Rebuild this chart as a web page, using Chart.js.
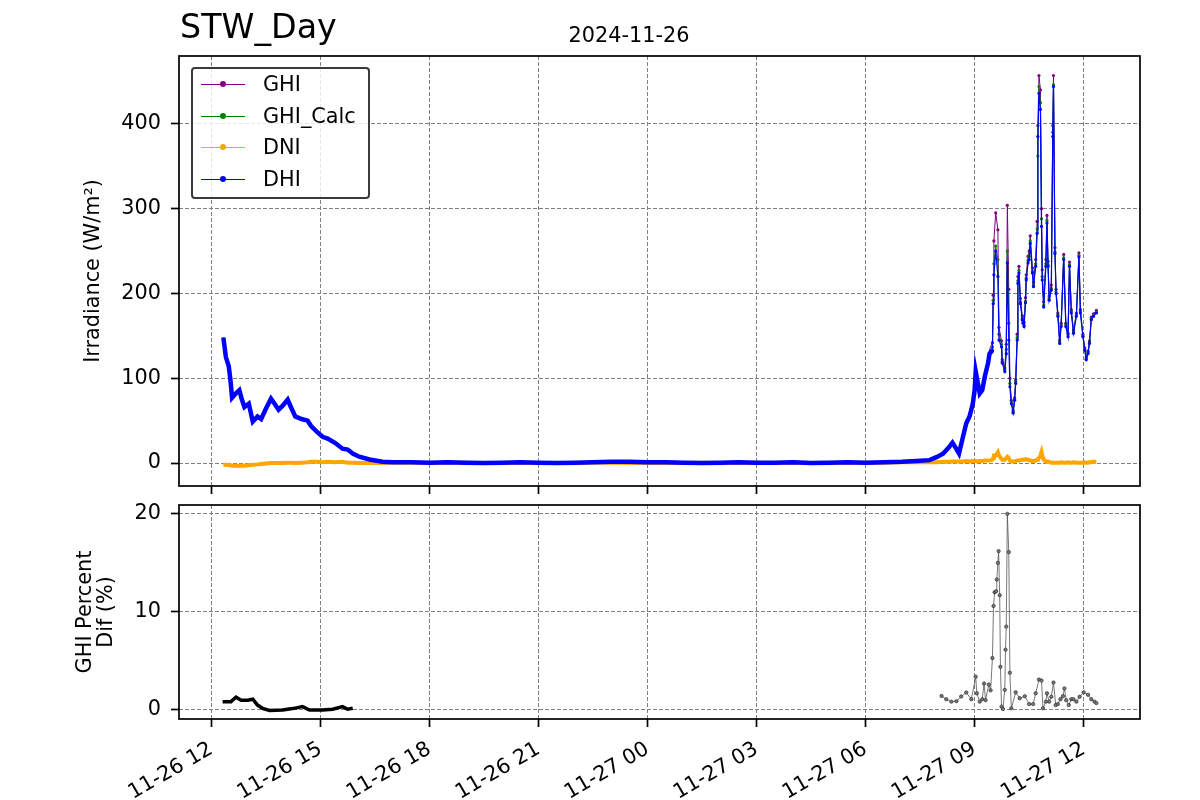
<!DOCTYPE html>
<html>
<head>
<meta charset="utf-8">
<script src="https://cdn.jsdelivr.net/npm/chart.js@4.4.1/dist/chart.umd.min.js"></script>
<style>
  body { margin: 0; background: #fff; font-family: "DejaVu Sans", sans-serif; }
  #wrap { position: relative; width: 1200px; height: 800px; overflow: hidden; }
  canvas { position: absolute; left: 0; }
  #title { position: absolute; left: 180px; top: 7px; font-size: 33.3px; color: #000; }
  #date { position: absolute; left: 629px; top: 23px; font-size: 20.8px; transform: translateX(-50%); color: #000; }
  #legend {
    position: absolute; left: 191px; top: 67px; width: 175px; height: 128px;
    border: 2px solid #3a3a3a; border-radius: 4px; background: rgba(255,255,255,0.8);
  }
  .row { position: absolute; left: 0; height: 20px; width: 100%; }
  .row .ln { position: absolute; left: 8px; top: 9px; width: 44px; height: 1px; }
  .row .dot { position: absolute; left: 27px; top: 6px; width: 6px; height: 6px; border-radius: 50%; }
  .row span { position: absolute; left: 70px; top: -3px; font-size: 20.8px; color: #000; }
</style>
</head>
<body>
<div id="wrap">
  <canvas id="top" width="1200" height="500" style="top:0"></canvas>
  <canvas id="bottom" width="1200" height="310" style="top:490px"></canvas>
  <div id="title">STW_Day</div>
  <div id="date">2024-11-26</div>
  <div id="legend"></div>
</div>
<script>
// hours since 2024-11-26 00:00
const hours = [
  12.33, 12.40, 12.48, 12.53, 12.57, 12.67, 12.77, 12.84, 12.91, 13.03,
  13.14, 13.27, 13.37, 13.50, 13.64, 13.74, 13.85, 13.97, 14.10, 14.20,
  14.31, 14.48, 14.65, 14.74, 14.90, 15.06, 15.20, 15.40, 15.61, 15.75,
  15.90, 16.07, 16.35, 16.71, 17.00,
  17.5, 18, 18.5, 19, 19.5, 20, 20.5, 21, 21.5, 22, 22.5, 23, 23.5, 24,
  24.5, 25, 25.5, 26, 26.5, 27, 27.5, 28, 28.5, 29, 29.5, 30, 30.5, 31, 31.4,
  31.76, 31.95, 32.13, 32.28, 32.39, 32.48, 32.57, 32.68, 32.77, 32.86,
  32.95, 33.00, 33.03, 33.09, 33.14, 33.21, 33.28, 33.37, 33.41, 33.49,
  33.51, 33.53, 33.58, 33.64, 33.67, 33.74, 33.76, 33.83, 33.87, 33.90,
  33.94, 33.97, 34.01, 34.06, 34.10, 34.13, 34.17, 34.19, 34.22, 34.26,
  34.31, 34.33, 34.36, 34.40, 34.42, 34.47, 34.50, 34.53, 34.59, 34.62,
  34.68, 34.72, 34.74, 34.77, 34.81, 34.84, 34.86, 34.90, 34.96, 34.99,
  35.02, 35.05, 35.11, 35.15, 35.17, 35.21, 35.24, 35.29, 35.34, 35.38,
  35.45, 35.51, 35.57, 35.61, 35.66, 35.72, 35.80, 35.87, 35.91, 35.98,
  36.03, 36.07, 36.12, 36.16, 36.21, 36.27, 36.35
];

const dhi = [
  148, 125, 114, 96, 77, 82, 86, 75, 66, 70,
  49, 55, 52, 64, 76, 70, 63, 68, 75, 65,
  55, 52, 50, 44, 37, 31, 29, 24, 17, 16,
  11, 7.5, 4.3, 1.5, 1,
  1, 0.5, 1, 0.5, 0, 0.5, 1, 0.5, 0, 0.5, 1, 1.5, 1.5, 1,
  1, 0.5, 0, 0.5, 1, 0.5, 0.5, 1, 0, 0.5, 1, 0.5, 1, 1.5, 2.5,
  3.5, 7, 11, 18, 24, 18, 11.4, 31, 47, 55,
  70, 86, 108, 94, 82, 86, 102, 118, 129, 133,
  188, 222, 250, 220, 145, 137, 118, 108, 129, 236,
  145, 90, 70, 59, 74, 94, 145, 212, 224, 188,
  169, 165, 161, 189, 216, 236, 240, 259, 224, 208,
  232, 271, 385, 436, 417, 279, 216, 184, 232, 283,
  232, 192, 204, 385, 444, 247, 200, 173, 141, 161,
  240, 161, 149, 232, 177, 153, 173, 243, 177, 149,
  133, 122, 129, 141, 169, 173, 177
];

const ghi = [
  148, 125, 114, 96, 77, 82, 86, 75, 66, 70,
  49, 55, 52, 64, 76, 70, 63, 68, 75, 65,
  55, 52, 50, 44, 37, 31, 29, 24, 17, 16,
  11, 7.5, 4.3, 1.5, 1,
  1, 0.5, 1, 0.5, 0, 0.5, 1, 0.5, 0, 0.5, 1, 1.5, 1.5, 1,
  1, 0.5, 0, 0.5, 1, 0.5, 0.5, 1, 0, 0.5, 1, 0.5, 1, 1.5, 2.5,
  4, 7.5, 11.5, 18.5, 25, 19, 12, 32, 48, 56,
  71, 88, 112, 98, 84, 89, 105, 122, 134, 142,
  198, 262, 295, 275, 160, 144, 122, 112, 140, 304,
  205, 100, 74, 62, 77, 98, 152, 220, 232, 194,
  174, 170, 166, 195, 222, 244, 250, 268, 230, 213,
  240, 285, 398, 457, 440, 300, 228, 190, 240, 292,
  238, 197, 210, 398, 457, 254, 205, 177, 145, 165,
  246, 165, 153, 237, 181, 157, 177, 248, 181, 152,
  136, 125, 132, 144, 172, 176, 180
];

const ghiCalc = [
  148, 125, 114, 96, 77, 82, 86, 75, 66, 70,
  49, 55, 52, 64, 76, 70, 63, 68, 75, 65,
  55, 52, 50, 44, 37, 31, 29, 24, 17, 16,
  11, 7.5, 4.3, 1.5, 1,
  1, 0.5, 1, 0.5, 0, 0.5, 1, 0.5, 0, 0.5, 1, 1.5, 1.5, 1,
  1, 0.5, 0, 0.5, 1, 0.5, 0.5, 1, 0, 0.5, 1, 0.5, 1, 1.5, 2.5,
  4, 7.5, 11.5, 18.5, 25, 19, 12, 32, 48, 56,
  71, 87, 110, 96, 83, 88, 104, 120, 131, 137,
  192, 235, 256, 240, 152, 140, 120, 110, 134, 250,
  165, 94, 72, 60, 75, 96, 148, 215, 227, 190,
  171, 167, 163, 191, 218, 239, 244, 262, 226, 210,
  235, 276, 362, 444, 425, 288, 220, 186, 235, 286,
  234, 194, 206, 390, 446, 249, 202, 175, 143, 163,
  242, 163, 151, 234, 179, 155, 175, 245, 179, 150,
  134, 123, 130, 142, 170, 174, 178
];

const dni = [
  -2, -2, -2.5, -2.5, -3, -3, -3.5, -3, -3, -2.5,
  -2, -1.5, -1, -0.5, 0, 0, 0, 0, 0.5, 0.5,
  0, 0.5, 1, 1.5, 1.5, 1, 1.5, 1, 1.5, 0.5,
  0.5, 0, 0, 0, 0.5,
  0.5, 0, 0.5, 0.5, 0, 0, 0.5, 0, 0, 0, 0.5, 0.5, 0, 0,
  0.5, 0, 0.5, 0, 0, 0.5, 0, 0.5, 0, 0.5, 0, 0.5, 0.5, 1, 1,
  1, 1, 1.5, 1.5, 2, 2, 2, 2, 2.5, 2,
  2.5, 2.5, 2.5, 2, 2.5, 2.5, 3, 3, 3, 4,
  6, 9, 9, 13, 9, 5, 4, 4, 6, 7.5,
  6, 3, 2, 2, 2, 2.5, 3, 3, 3, 3.5,
  4, 4, 4, 4.5, 4.5, 4, 3.5, 3, 2.5, 2.5,
  3, 4, 5, 6, 9, 13, 9, 4, 2, 1.5,
  2, 1.5, 0.5, 0.5, 0.5, 0.5, 0.5, 0.5, 0.5, 1,
  0.5, 0.5, 1, 0.5, 0.5, 1, 0.5, 0.5, 0.5, 0.5,
  1, 0.5, 0.5, 1, 1, 1.5, 1.5
];

// GHI percent difference, null marks the gap overnight
const pctHours = [
  12.31, 12.54, 12.68, 12.82, 13.00, 13.14, 13.27, 13.41, 13.60, 13.96,
  14.24, 14.51, 14.70, 15.06, 15.34, 15.61, 15.75, 15.89,
  24.0,
  32.09, 32.22, 32.36, 32.50, 32.63, 32.77, 32.91, 33.03, 33.06, 33.14,
  33.21, 33.26, 33.30, 33.39, 33.44, 33.49, 33.52, 33.55, 33.59, 33.61,
  33.64, 33.66, 33.69, 33.71, 33.74, 33.78, 33.83, 33.85, 33.87, 33.90,
  33.94, 33.97, 34.01, 34.13, 34.24, 34.38, 34.50, 34.61, 34.68, 34.77,
  34.84, 34.88, 34.96, 34.99, 35.05, 35.11, 35.17, 35.23, 35.29, 35.36,
  35.43, 35.47, 35.52, 35.59, 35.66, 35.72, 35.80, 35.89, 36.00, 36.12,
  36.21, 36.30, 36.35
];
const pctDif = [
  0.85, 0.85, 1.3, 1.0, 1.0, 1.1, 0.5, 0.17, -0.05, 0.0,
  0.14, 0.34, 0.0, 0.0, 0.07, 0.34, 0.07, 0.17,
  null,
  1.43, 1.1, 0.85, 0.9, 1.37, 1.78, 1.1, 3.4, 1.7, 0.85,
  1.1, 2.7, 1.0, 2.6, 2.0, 5.3, 10.6, 12.0, 12.1, 13.3,
  15.0, 16.2, 11.7, 4.4, 0.34, 0.1, 2.05, 6.15, 8.5, 20.0,
  16.1, 3.8, 0.17, 1.8, 1.2, 1.4, 0.6, 0.6, 1.7, 3.1,
  3.0, 0.17, 0.85, 1.7, 0.85, 1.35, 2.8, 0.5, 0.6, 1.1,
  1.4, 2.2, 1.0, 0.5, 1.1, 1.1, 0.85, 1.35, 1.8, 1.55,
  1.1, 0.85, 0.7
];

const xTicks = [12, 15, 18, 21, 24, 27, 30, 33, 36];
const xTickLabels = ['11-26 12', '11-26 15', '11-26 18', '11-26 21', '11-27 00',
                     '11-27 03', '11-27 06', '11-27 09', '11-27 12'];
const irrTicks = [0, 100, 200, 300, 400];
const pctTicks = [0, 10, 20];

const seriesNames = ['GHI', 'GHI_Calc', 'DNI', 'DHI'];
const seriesColors = ['#800080', '#008000', '#ffa500', '#0000ff'];

const FONT = 'DejaVu Sans';
const FS = 20.8;
const denseUntil = 33.45;

const pts = (xs, ys) => xs.map((x, i) => ({ x: x, y: ys[i] }));

// box around the plot area, like matplotlib axes
const frame = {
  id: 'frame',
  afterDraw(chart) {
    const { ctx, chartArea: a } = chart;
    ctx.save();
    ctx.strokeStyle = '#000';
    ctx.lineWidth = 1.7;
    ctx.strokeRect(a.left, a.top, a.right - a.left, a.bottom - a.top);
    ctx.restore();
  }
};

function gridOpts() {
  return {
    color: '#808080',
    lineWidth: 1,
    tickColor: '#000',
    tickBorderDash: [],
    tickLength: 8,
    tickWidth: 1.7
  };
}

function xScale(showLabels, height) {
  return {
    type: 'linear',
    min: 11.11,
    max: 37.55,
    afterBuildTicks: s => { s.ticks = xTicks.map(v => ({ value: v })); },
    afterFit: s => {
      s.height = height;
      s.paddingLeft = 0;
      s.paddingRight = 0;
    },
    border: { display: false, dash: [4, 2] },
    grid: gridOpts(),
    ticks: {
      display: showLabels,
      autoSkip: false,
      maxRotation: 30,
      minRotation: 30,
      padding: 10,
      color: '#000',
      font: { family: FONT, size: FS },
      callback: v => xTickLabels[xTicks.indexOf(v)]
    }
  };
}

function yScale(min, max, tickVals, title, width) {
  return {
    min: min,
    max: max,
    afterBuildTicks: s => { s.ticks = tickVals.map(v => ({ value: v })); },
    afterFit: s => {
      s.width = width;
      s.paddingTop = 0;
      s.paddingBottom = 0;
    },
    border: { display: false, dash: [4, 2] },
    grid: gridOpts(),
    title: {
      display: true,
      text: title,
      color: '#000',
      padding: 0,
      font: { family: FONT, size: FS, lineHeight: 1.0 }
    },
    ticks: {
      padding: 10,
      color: '#000',
      font: { family: FONT, size: FS }
    }
  };
}

// top panel: irradiance
const irrData = [ghi, ghiCalc, dni, dhi];
new Chart(document.getElementById('top'), {
  type: 'line',
  data: {
    datasets: irrData.map((vals, i) => ({
      label: seriesNames[i],
      data: pts(hours, vals),
      borderColor: seriesColors[i],
      backgroundColor: seriesColors[i],
      order: 4 - i,
      tension: 0,
      pointRadius: ctx => (i === 2 || ctx.raw.x < denseUntil) ? 0 : 1.6,
      pointBorderWidth: 0,
      segment: {
        borderWidth: ctx => {
          if (i === 2) return 4;
          if (i === 3) return ctx.p0.parsed.x < denseUntil ? 4.5 : 1.2;
          return 1;
        }
      }
    }))
  },
  options: {
    responsive: false,
    animation: false,
    devicePixelRatio: 1,
    layout: { padding: { left: 83, right: 60, top: 56, bottom: 4 } },
    plugins: { legend: { display: false }, tooltip: { enabled: false } },
    scales: {
      x: xScale(false, 10),
      y: yScale(-27, 480, irrTicks, 'Irradiance (W/m²)', 96)
    }
  },
  plugins: [frame]
});

// bottom panel: GHI percent difference
new Chart(document.getElementById('bottom'), {
  type: 'line',
  data: {
    datasets: [{
      label: 'GHI Percent Dif',
      data: pts(pctHours, pctDif),
      borderColor: '#333',
      tension: 0,
      spanGaps: false,
      pointRadius: ctx => ctx.raw.x < 20 ? 0 : 1.7,
      pointBackgroundColor: '#777',
      pointBorderColor: '#222',
      pointBorderWidth: 0.6,
      segment: {
        borderWidth: ctx => ctx.p0.parsed.x < 20 ? 3.5 : 0.8,
        borderColor: ctx => ctx.p0.parsed.x < 20 ? '#000' : '#555'
      }
    }]
  },
  options: {
    responsive: false,
    animation: false,
    devicePixelRatio: 1,
    layout: { padding: { left: 75, right: 60, top: 15, bottom: 0 } },
    plugins: { legend: { display: false }, tooltip: { enabled: false } },
    scales: {
      x: xScale(true, 81),
      y: yScale(-0.92, 20.9, pctTicks, ['GHI Percent', 'Dif (%)'], 104)
    }
  },
  plugins: [frame]
});

// legend box, drawn as html on top of the plot
const legend = document.getElementById('legend');
seriesNames.forEach((name, i) => {
  const row = document.createElement('div');
  row.className = 'row';
  row.style.top = (6 + i * 31.7) + 'px';
  row.innerHTML = '<div class="ln" style="background:' + seriesColors[i] + '"></div>' +
    '<div class="dot" style="background:' + seriesColors[i] + '"></div>' +
    '<span>' + name + '</span>';
  legend.appendChild(row);
});
</script>
</body>
</html>
